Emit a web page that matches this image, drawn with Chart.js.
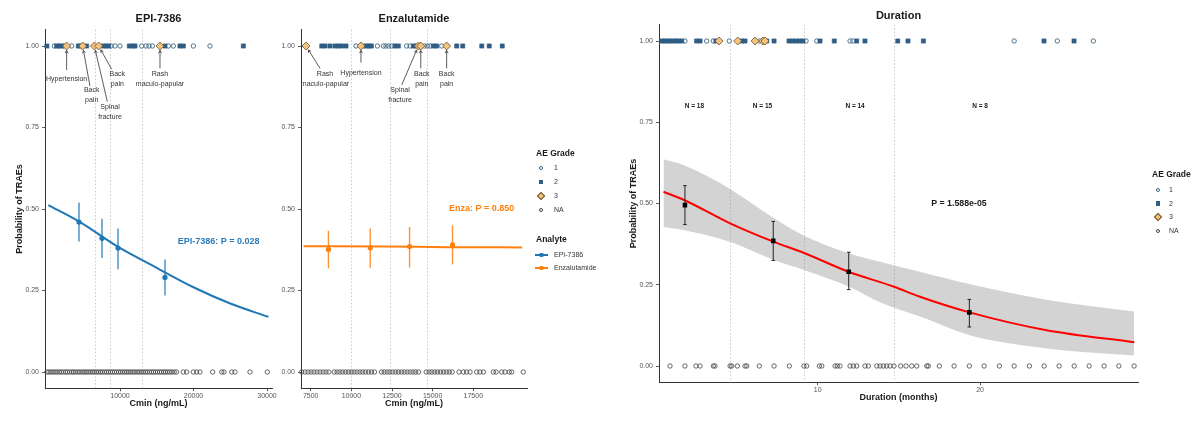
<!DOCTYPE html>
<html>
<head>
<meta charset="utf-8">
<title>Probability of TRAEs</title>
<script src="https://cdn.jsdelivr.net/npm/chart.js@4.4.1/dist/chart.umd.min.js"></script>
<style>
  html, body { margin: 0; padding: 0; background: #fff; }
  #wrap { position: relative; width: 1200px; height: 434px; overflow: hidden; font-family: "Liberation Sans", Arial, sans-serif; }
  #wrap canvas { position: absolute; top: 0; }
  .lg { position: absolute; color: #333; font-size: 7px; line-height: 10px; white-space: nowrap; }
  .lg-title { font-weight: bold; font-size: 8.5px; color: #1a1a1a; }
  .sym { position: absolute; box-sizing: border-box; }
</style>
</head>
<body>
<div id="wrap">
  <canvas id="epi" width="290" height="434" style="left:0px"></canvas>
  <canvas id="enza" width="265" height="434" style="left:275px"></canvas>
  <canvas id="dur" width="560" height="434" style="left:620px"></canvas>
</div>
<script>
// ---- shared ----
var yTicks = [0, 0.25, 0.5, 0.75, 1];
var gradeLabels = ['1', '2', '3', 'NA'];
var analyteLabels = ['EPI-7386', 'Enzalutamide'];

// ---- EPI-7386 panel (Cmin, ng/mL) ----
var epiTicks = [10000, 20000, 30000];
var epiCuts = [6600, 8640, 12950];
var epiFitX = [250, 4400, 9800, 14800, 20000, 25000, 30200];
var epiFitY = [0.512, 0.462, 0.383, 0.322, 0.26, 0.21, 0.169];
var epiBinX = [4420, 7550, 9730, 16120];
var epiBinY = [0.46, 0.41, 0.38, 0.29];
var epiBinLo = [0.40, 0.35, 0.315, 0.235];
var epiBinHi = [0.52, 0.47, 0.44, 0.345];
var epiG1 = [1070, 2290, 3420, 8780, 9320, 10000, 12950, 13540, 13950, 14400, 16580, 17260, 19980, 22240];
var epiG2 = [50, 1380, 1700, 2020, 4330, 4650, 5460, 7730, 8100, 8460, 11270, 11720, 12040, 16120, 18160, 18620, 26780];
var epiG3 = [2740, 4920, 6510, 7100, 15440];
var epiG3Text = [['Hypertension'], ['Back', 'pain'], ['Spinal', 'fracture'], ['Back', 'pain'], ['Rash', 'maculo-papular']];
var epiNA = [60, 330, 610, 880, 1160, 1420, 1730, 2010, 2290, 2600, 2850, 3140, 3450, 3700, 3990, 4280, 4540,
  4850, 5120, 5380, 5660, 5950, 6230, 6480, 6770, 7050, 7330, 7580, 7880, 8150, 8420, 8700, 8980, 9250, 9530,
  9820, 10090, 10360, 10650, 10930, 11200, 11480, 11770, 12030, 12330, 12600, 12880, 13150, 13450, 13720, 14000,
  14280, 14560, 14830, 15100, 15390, 15650, 15940, 16200, 16480, 16760, 17050, 17380, 17700, 18610, 19070, 19970,
  20430, 20880, 22610, 23840, 24150, 25200, 25650, 27690, 30040];
var epiPText = 'EPI-7386: P = 0.028';

// ---- Enzalutamide panel (Cmin, ng/mL) ----
var enzaTicks = [7500, 10000, 12500, 15000, 17500];
var enzaCuts = [9970, 12350, 14680];
var enzaFitX = [7060, 12000, 16000, 20500];
var enzaFitY = [0.386, 0.385, 0.383, 0.382];
var enzaBinX = [8590, 11160, 13580, 16220];
var enzaBinY = [0.376, 0.381, 0.385, 0.39];
var enzaBinLo = [0.318, 0.32, 0.32, 0.33];
var enzaBinHi = [0.433, 0.44, 0.445, 0.45];
var enzaG1 = [10290, 10800, 11600, 11970, 12130, 12300, 12480, 13400, 13610, 14490, 14670, 14840, 15560];
var enzaG2 = [8180, 8380, 8690, 9000, 9200, 9410, 9670, 10940, 11090, 11230, 12680, 12890, 13810, 13980,
  15040, 15250, 16480, 16850, 18020, 18480, 19280];
var enzaG3 = [7210, 10590, 14120, 14270, 15860];
var enzaG3Text = [['Rash', 'maculo-papular'], ['Hypertension'], ['Spinal', 'fracture'], ['Back', 'pain'], ['Back', 'pain']];
var enzaNA = [6950, 7150, 7340, 7520, 7700, 7890, 8070, 8260, 8440, 8620, 8950, 9120, 9300, 9470, 9650, 9820,
  10000, 10170, 10350, 10530, 10700, 10880, 11060, 11240, 11420, 11850, 12020, 12200, 12370, 12550, 12730,
  12900, 13080, 13250, 13430, 13610, 13790, 13960, 14140, 14600, 14780, 14950, 15130, 15300, 15480, 15660,
  15840, 16020, 16200, 16620, 16890, 17090, 17300, 17710, 17910, 18120, 18730, 18900, 19250, 19450, 19710,
  19860, 20570];
var enzaPText = 'Enza: P = 0.850';

// ---- Duration panel (months) ----
var durTicks = [10, 20];
var durCuts = [4.6, 9.17, 14.7];
var durFitX = [0.5, 1.8, 4.6, 7.3, 9.2, 11.9, 14.7, 16.3, 19.35, 24.1, 29.5];
var durFitY = [0.536, 0.51, 0.439, 0.382, 0.347, 0.29, 0.244, 0.213, 0.165, 0.11, 0.073];
var durBandX = [0.5, 1.8, 4.6, 7.3, 9.2, 11.9, 13.9, 16.3, 19.35, 24, 29.5];
var durBandHi = [0.636, 0.617, 0.545, 0.455, 0.40, 0.347, 0.32, 0.29, 0.252, 0.205, 0.168];
var durBandLo = [0.428, 0.418, 0.382, 0.326, 0.295, 0.245, 0.195, 0.152, 0.095, 0.055, 0.032];
var durBinX = [1.82, 7.26, 11.91, 19.34];
var durBinY = [0.495, 0.385, 0.29, 0.165];
var durBinLo = [0.435, 0.325, 0.235, 0.12];
var durBinHi = [0.555, 0.445, 0.35, 0.205];
var durG1 = [1.82, 3.16, 3.57, 4.55, 6.4, 9.28, 9.94, 11.99, 12.17, 22.1, 24.76, 26.98];
var durG2 = [0.39, 0.56, 0.73, 0.9, 1.07, 1.24, 1.41, 1.62, 2.54, 2.75, 3.73, 5.32, 5.52, 6.86, 7.31, 8.23,
  8.45, 8.66, 8.88, 9.09, 10.14, 11.02, 12.4, 12.91, 14.93, 15.56, 16.51, 23.94, 25.79];
var durG3 = [3.92, 5.07, 6.14, 6.61, 6.75];
var durNA = [0.9, 1.82, 2.5, 2.75, 3.57, 3.67, 4.6, 4.7, 5.05, 5.52, 5.63, 6.4, 7.31, 8.25, 9.15, 9.32, 10.1,
  10.25, 11.07, 11.21, 11.37, 11.99, 12.19, 12.4, 12.91, 13.12, 13.64, 13.84, 14.04, 14.25, 14.45, 14.7, 15.11,
  15.44, 15.79, 16.1, 16.72, 16.81, 17.49, 18.4, 19.34, 20.25, 21.19, 22.1, 23.04, 23.95, 24.87, 25.8, 26.72,
  27.64, 28.55, 29.49];
var durNText = ['N = 18', 'N = 15', 'N = 14', 'N = 8'];
var durNX = [2.4, 6.6, 12.3, 20];
var durPText = 'P = 1.588e-05';

// ---- layout / style ----
var FONT = '"Liberation Sans", Arial, sans-serif';
var BLUE = '#1f77b4', ORANGE = '#ff7f0e', RED = '#ff0000';
// label + arrow-start offsets (px) from each grade-3 marker
var epiAnnot = [
  { lx: 0, ly: 33, ax: 0, ay: 24 },
  { lx: 9, ly: 44, ax: 7.3, ay: 40 },
  { lx: 15.7, ly: 60.7, ax: 13, ay: 55.7 },
  { lx: 18.6, ly: 28, ax: 13, ay: 23.3 },
  { lx: 0, ly: 28, ax: 0, ay: 22.3 }
];
var enzaAnnot = [
  { lx: 19, ly: 28, ax: 14, ay: 22.3 },
  { lx: 0, ly: 26.7, ax: 0, ay: 16.7 },
  { lx: -18.3, ly: 44, ax: -16.6, ay: 39 },
  { lx: 1, ly: 28, ax: 0, ay: 22.3 },
  { lx: 0, ly: 28, ax: 0, ay: 22.3 }
];

function pts(xs, y) { return xs.map(function (v) { return { x: v, y: y }; }); }
function xy(xs, ys) { return xs.map(function (v, i) { return { x: v, y: ys[i] }; }); }

function text(ctx, s, x, y, font, color, align) {
  ctx.save();
  ctx.font = font;
  ctx.fillStyle = color;
  ctx.textAlign = align || 'center';
  ctx.textBaseline = 'middle';
  ctx.fillText(s, x, y);
  ctx.restore();
}

// top/bottom rug of AE grades; index 4 is reserved for binned points
function markerSets(g1, g2, g3, na) {
  return [
    { data: pts(g3, 1), pointStyle: 'rectRot', pointRadius: 4, backgroundColor: '#f3c27c', borderColor: '#6b5530', borderWidth: 0.8, order: 0, clip: false },
    { data: pts(g2, 1), pointStyle: 'rect', pointRadius: 3.0, backgroundColor: '#2f5d84', borderColor: '#2f5d84', borderWidth: 0.5, order: 1, clip: false },
    { data: pts(g1, 1), pointStyle: 'circle', pointRadius: 2.2, backgroundColor: 'rgba(255,255,255,0)', borderColor: '#3d6685', borderWidth: 0.9, order: 2, clip: false },
    { data: pts(na, 0), pointStyle: 'circle', pointRadius: 2.2, backgroundColor: 'rgba(255,255,255,0)', borderColor: '#444', borderWidth: 0.8, order: 9, clip: false }
  ];
}

function axes(o) {
  var tickFont = { family: FONT, size: 7 };
  var titleFont = { family: FONT, size: 9, weight: 'bold' };
  var grid = { display: true, drawOnChartArea: false, drawTicks: true, tickLength: 3, color: '#333', lineWidth: 0.8 };
  var border = { display: true, color: '#333', width: 1 };
  return {
    x: {
      type: 'linear', min: o.xMin, max: o.xMax,
      afterBuildTicks: function (s) { s.ticks = o.xTicks.map(function (v) { return { value: v }; }); },
      afterFit: function (s) { s.height = o.xHeight; },
      ticks: { font: tickFont, color: '#555', padding: 0.5, maxRotation: 0, autoSkip: false,
        callback: function (v) { return String(v); } },
      grid: grid, border: border,
      title: { display: true, text: o.xTitle, font: titleFont, color: '#1a1a1a', padding: { top: 0, bottom: o.xTitlePad } }
    },
    y: {
      type: 'linear', min: -0.05, max: 1.05,
      afterBuildTicks: function (s) { s.ticks = yTicks.map(function (v) { return { value: v }; }); },
      afterFit: function (s) { s.width = o.yWidth; },
      ticks: { font: tickFont, color: '#555', padding: 3, autoSkip: false,
        callback: function (v) { return v.toFixed(2); } },
      grid: grid, border: border,
      title: { display: !!o.yTitle, text: o.yTitle || '', font: titleFont, color: '#1a1a1a', padding: { top: o.yTitlePad || 0, bottom: 0 } }
    }
  };
}

function guides(cuts) {
  return {
    id: 'guides',
    beforeDatasetsDraw: function (chart) {
      var ctx = chart.ctx, a = chart.chartArea, sx = chart.scales.x;
      ctx.save();
      ctx.strokeStyle = '#bdbdbd';
      ctx.lineWidth = 0.8;
      ctx.setLineDash([1.5, 2]);
      cuts.forEach(function (v) {
        var x = Math.round(sx.getPixelForValue(v)) + 0.5;
        ctx.beginPath(); ctx.moveTo(x, a.top); ctx.lineTo(x, a.bottom); ctx.stroke();
      });
      ctx.restore();
    }
  };
}

function errorBars(index, xs, lo, hi, color, width, cap) {
  return {
    id: 'errbars',
    beforeDatasetDraw: function (chart, args) {
      if (args.index !== index) return;
      var ctx = chart.ctx, sx = chart.scales.x, sy = chart.scales.y;
      ctx.save();
      ctx.strokeStyle = color;
      ctx.lineWidth = width;
      xs.forEach(function (v, i) {
        var x = sx.getPixelForValue(v), y0 = sy.getPixelForValue(lo[i]), y1 = sy.getPixelForValue(hi[i]);
        ctx.beginPath();
        ctx.moveTo(x, y0); ctx.lineTo(x, y1);
        if (cap) {
          ctx.moveTo(x - cap, y0); ctx.lineTo(x + cap, y0);
          ctx.moveTo(x - cap, y1); ctx.lineTo(x + cap, y1);
        }
        ctx.stroke();
      });
      ctx.restore();
    }
  };
}

function labels(o) {
  return {
    id: 'labels',
    afterDatasetsDraw: function (chart) {
      var ctx = chart.ctx, a = chart.chartArea, sx = chart.scales.x, sy = chart.scales.y;
      text(ctx, o.title, (a.left + a.right) / 2, o.titleY, 'bold 11px ' + FONT, '#1a1a1a');
      text(ctx, o.pText, sx.getPixelForValue(o.pAt[0]), sy.getPixelForValue(o.pAt[1]), 'bold ' + o.pSize + 'px ' + FONT, o.pColor);
      (o.nText || []).forEach(function (s, i) {
        text(ctx, s, sx.getPixelForValue(o.nX[i]), sy.getPixelForValue(o.nY), 'bold 6.5px ' + FONT, '#1a1a1a');
      });
      (o.annX || []).forEach(function (v, i) {
        var L = o.annLayout[i];
        var tx = sx.getPixelForValue(v), ty = sy.getPixelForValue(1);
        var sx0 = tx + L.ax, sy0 = ty + L.ay;
        var d = Math.hypot(L.ax, L.ay);
        var ex = tx + L.ax / d * 4.5, ey = ty + L.ay / d * 4.5;
        var ang = Math.atan2(ey - sy0, ex - sx0);
        ctx.save();
        ctx.strokeStyle = '#333';
        ctx.lineWidth = 0.8;
        ctx.beginPath();
        ctx.moveTo(sx0, sy0); ctx.lineTo(ex, ey);
        ctx.moveTo(ex - 3 * Math.cos(ang - 0.5), ey - 3 * Math.sin(ang - 0.5)); ctx.lineTo(ex, ey);
        ctx.lineTo(ex - 3 * Math.cos(ang + 0.5), ey - 3 * Math.sin(ang + 0.5));
        ctx.stroke();
        ctx.restore();
        o.annText[i].forEach(function (s, k) {
          text(ctx, s, tx + L.lx, ty + L.ly + k * 10, '7px ' + FONT, '#333');
        });
      });
    }
  };
}

function makeChart(id, o) {
  var ds = markerSets(o.g1, o.g2, o.g3, o.na);
  ds.push({ data: xy(o.binX, o.binY), pointStyle: o.binStyle || 'circle', pointRadius: o.binRadius, backgroundColor: o.binColor, borderColor: o.binColor, borderWidth: 0, order: 3 });
  ds.push({ type: 'line', data: xy(o.fitX, o.fitY), borderColor: o.fitColor, borderWidth: 2, pointRadius: 0, cubicInterpolationMode: 'monotone', fill: false, order: 4 });
  if (o.bandX) {
    ds.push({ type: 'line', data: xy(o.bandX, o.bandHi), borderWidth: 0, pointRadius: 0, cubicInterpolationMode: 'monotone', fill: '+1', backgroundColor: 'rgba(140,140,140,0.38)', order: 6 });
    ds.push({ type: 'line', data: xy(o.bandX, o.bandLo), borderWidth: 0, pointRadius: 0, cubicInterpolationMode: 'monotone', fill: false, order: 7 });
  }
  return new Chart(document.getElementById(id), {
    type: 'scatter',
    data: { datasets: ds },
    options: {
      responsive: false, animation: false, events: [], devicePixelRatio: 1,
      layout: { padding: o.padding },
      plugins: { legend: { display: false }, tooltip: { enabled: false } },
      scales: axes(o)
    },
    plugins: [guides(o.cuts), errorBars(4, o.binX, o.binLo, o.binHi, o.barColor, o.barWidth, o.cap), labels(o)]
  });
}

makeChart('epi', {
  g1: epiG1, g2: epiG2, g3: epiG3, na: epiNA, cuts: epiCuts,
  binX: epiBinX, binY: epiBinY, binLo: epiBinLo, binHi: epiBinHi, binRadius: 2.6, binColor: BLUE,
  barColor: 'rgba(31,119,180,0.85)', barWidth: 1.4, cap: 0,
  fitX: epiFitX, fitY: epiFitY, fitColor: BLUE,
  xMin: -204, xMax: 30680, xTicks: epiTicks, xHeight: 45.7, xTitle: 'Cmin (ng/mL)', xTitlePad: 24.6,
  yWidth: 45, yTitle: 'Probability of TRAEs', yTitlePad: 14.6,
  padding: { top: 29.7, right: 18, bottom: 0, left: 0 },
  title: 'EPI-7386', titleY: 19,
  pText: epiPText, pAt: [23430, 0.40], pSize: 9, pColor: '#2b7bba',
  annX: epiG3, annText: epiG3Text, annLayout: epiAnnot
});

makeChart('enza', {
  g1: enzaG1, g2: enzaG2, g3: enzaG3, na: enzaNA, cuts: enzaCuts,
  binX: enzaBinX, binY: enzaBinY, binLo: enzaBinLo, binHi: enzaBinHi, binRadius: 2.6, binColor: ORANGE,
  barColor: 'rgba(255,127,14,0.85)', barWidth: 1.4, cap: 0,
  fitX: enzaFitX, fitY: enzaFitY, fitColor: ORANGE,
  xMin: 6903, xMax: 20802, xTicks: enzaTicks, xHeight: 45.7, xTitle: 'Cmin (ng/mL)', xTitlePad: 24.6,
  yWidth: 26,
  padding: { top: 29.7, right: 13, bottom: 0, left: 0 },
  title: 'Enzalutamide', titleY: 19,
  pText: enzaPText, pAt: [18017, 0.50], pSize: 9, pColor: ORANGE,
  annX: enzaG3, annText: enzaG3Text, annLayout: enzaAnnot
});

makeChart('dur', {
  g1: durG1, g2: durG2, g3: durG3, na: durNA, cuts: durCuts,
  binX: durBinX, binY: durBinY, binLo: durBinLo, binHi: durBinHi, binRadius: 3.2, binStyle: 'rect', binColor: '#000',
  barColor: '#222', barWidth: 1, cap: 1.8,
  fitX: durFitX, fitY: durFitY, fitColor: RED,
  bandX: durBandX, bandHi: durBandHi, bandLo: durBandLo,
  xMin: 0.222, xMax: 29.73, xTicks: durTicks, xHeight: 51.75, xTitle: 'Duration (months)', xTitlePad: 30.6,
  yWidth: 39, yTitle: 'Probability of TRAEs', yTitlePad: 7.9,
  padding: { top: 24.75, right: 42, bottom: 0, left: 0 },
  title: 'Duration', titleY: 16,
  pText: durPText, pAt: [18.7, 0.50], pSize: 8.8, pColor: '#1a1a1a',
  nText: durNText, nX: durNX, nY: 0.8
});

// ---- HTML legends ----
var wrap = document.getElementById('wrap');
function el(cls, css, html) {
  var d = document.createElement('div');
  d.className = cls;
  d.style.cssText = css;
  if (html) d.textContent = html;
  wrap.appendChild(d);
  return d;
}
function gradeSymbol(g, cx, cy) {
  if (g === '2') return el('sym', 'left:' + (cx - 2.2) + 'px;top:' + (cy - 2.2) + 'px;width:4.4px;height:4.4px;background:#2f5d84;');
  if (g === '3') return el('sym', 'left:' + (cx - 3) + 'px;top:' + (cy - 3) + 'px;width:6px;height:6px;background:#f3c27c;border:0.8px solid #6b5530;transform:rotate(45deg);');
  var c = g === '1' ? '#3d6685' : '#444';
  return el('sym', 'left:' + (cx - 2.3) + 'px;top:' + (cy - 2.3) + 'px;width:4.6px;height:4.6px;border:0.9px solid ' + c + ';border-radius:50%;');
}
function gradeLegend(x, titleY, symX, textX, rowsY) {
  el('lg lg-title', 'left:' + x + 'px;top:' + (titleY - 5) + 'px;', 'AE Grade');
  gradeLabels.forEach(function (g, i) {
    gradeSymbol(g, symX, rowsY[i]);
    el('lg', 'left:' + textX + 'px;top:' + (rowsY[i] - 5) + 'px;', g);
  });
}
gradeLegend(536, 153, 541, 554, [168, 182, 196, 210]);
gradeLegend(1152, 174, 1158, 1169, [190, 203.5, 217, 231]);

el('lg lg-title', 'left:536px;top:234px;', 'Analyte');
[BLUE, ORANGE].forEach(function (c, i) {
  var y = [255, 268][i];
  el('sym', 'left:535px;top:' + (y - 0.8) + 'px;width:13px;height:1.6px;background:' + c + ';');
  el('sym', 'left:539.2px;top:' + (y - 2.3) + 'px;width:4.6px;height:4.6px;border-radius:50%;background:' + c + ';');
  el('lg', 'left:554px;top:' + (y - 5) + 'px;', analyteLabels[i]);
});
</script>
</body>
</html>
